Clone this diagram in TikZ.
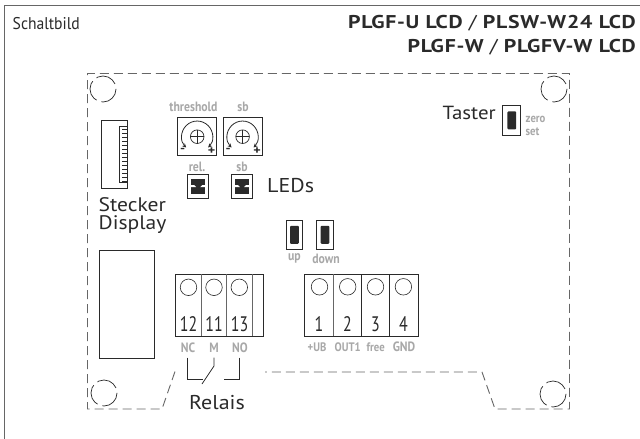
\documentclass[tikz,border=0pt]{standalone}
\usepackage{fontspec}
\setmainfont{PT Sans}
\newfontfamily\din[FakeStretch=0.92]{PT Sans}
\newfontfamily\dinw[FakeStretch=1.1]{PT Sans}
\newfontfamily\dinn[FakeStretch=0.76]{PT Sans}
\newfontfamily\dinb[FakeStretch=1.18,LetterSpace=4]{PT Sans Bold}
\newfontfamily\dinr[FakeStretch=1.18,LetterSpace=4]{PT Sans}
\newfontfamily\dinc[FakeStretch=0.87]{PT Sans Bold}
\usetikzlibrary{arrows.meta}
\definecolor{ink}{HTML}{2A2A2A}
\definecolor{lbl}{HTML}{A8A8A8}
\definecolor{frm}{HTML}{666666}
\tikzset{
  x=1pt,y=-1pt,
  boxline/.style={draw=ink,line width=0.9pt},
  board/.style={draw=frm,line width=0.9pt,dash pattern=on 9pt off 5pt},
  holec/.style={draw=ink,line width=0.7pt,dash pattern=on 22pt off 5pt},
  term/.style={draw=ink,line width=0.6pt,circle,minimum size=16.5pt,inner sep=0pt},
  big/.style={font=\dinw\fontsize{20}{20}\selectfont,text=ink,inner sep=0pt},
  num/.style={font=\dinn\fontsize{21}{21}\selectfont,text=ink,inner sep=0pt},
  small/.style={font=\dinc\fontsize{13.5}{14}\selectfont,text=lbl,inner sep=0pt},
  tiny/.style={font=\dinc\fontsize{12.3}{13}\selectfont,text=lbl,inner sep=0pt},
  head/.style={font=\dinb\fontsize{18.5}{20}\selectfont,text=ink,inner sep=0pt},
}
\newcommand{\pot}[2]{%
  \draw[boxline] (#1-19.5,#2-19) rectangle (#1+19.5,#2+19);
  \draw[draw=ink,line width=0.7pt] (#1,#2) circle (6.8);
  \draw[draw=ink,line width=0.6pt] (#1-6.8,#2) -- (#1+6.8,#2) (#1,#2-6.8) -- (#1,#2+6.8);
  \draw[draw=ink,line width=0.8pt,{Stealth[length=4pt,width=4pt]}-{Stealth[length=4pt,width=4pt]}] (#1-11,#2+10.8) arc[start angle=135,end angle=405,radius=15.5];
  \node[font=\dinb\fontsize{12}{12}\selectfont,text=ink,inner sep=0pt] at (#1-14.5,#2+14) {-};
  \node[font=\dinb\fontsize{12}{12}\selectfont,text=ink,inner sep=0pt] at (#1+14.5,#2+14) {+};
}
\newcommand{\ledbox}[2]{%
  \draw[boxline] (#1-10.5,#2-12) rectangle (#1+10.5,#2+12);
  \fill[ink] (#1-7.2,#2-7.5) rectangle (#1+7.2,#2+7.5);
  \fill[white] (#1-7.2,#2-1) -- (#1-4,#2-1) -- (#1-2,#2+1) -- (#1-7.2,#2+1) -- cycle
               (#1+7.2,#2-1) -- (#1+4,#2-1) -- (#1+2,#2+1) -- (#1+7.2,#2+1) -- cycle;
}
\newcommand{\keybox}[6]{%
  \draw[boxline] (#1,#2) rectangle (#3,#4);
  \fill[ink,rounded corners=1pt] (#5-4.4,#6-9) rectangle (#5+4.4,#6+9);
}
\begin{document}
\begin{tikzpicture}
\useasboundingbox (0,0) rectangle (640,439);
\fill[white] (0,0) rectangle (640,439);
% outer frame
\draw[frm,line width=1pt] (4.5,439) -- (4.5,5) -- (640,5);
% header
\node[font=\din\fontsize{17}{18}\selectfont,text=ink,inner sep=0pt,anchor=west] (title) at (12.5,23.5) {Schaltbild};
\node[head,anchor=east] (h1) at (636,23.5) {PLGF-U LCD {\dinr/} PLSW-W24 LCD};
\node[head,anchor=east] (h2) at (636,47.5) {PLGF-W {\dinr/} PLGFV-W LCD};
% board
\draw[board] (175,371.5) -- (162,409) -- (87.5,409) -- (87.5,73.5) -- (569.5,73.5) -- (569.5,409) -- (495,409) -- (482,372) -- (265,372);
% mounting holes
\draw[holec] (103,89) circle (13);
\draw[holec] (104,393) circle (13);
\draw[holec] (554,89) circle (13);
\draw[holec] (553,394) circle (13);
% display connector
\draw[boxline] (101.7,120.7) rectangle (127.7,188);
\draw[boxline,line width=0.7pt] (119.3,126.5) rectangle (127.7,182);
\foreach \yy in {129,133,...,181} \draw[ink,line width=0.5pt] (122,\yy) -- (127.7,\yy);
\node[big,anchor=west,font=\dinw\fontsize{19.6}{20}\selectfont] (stecker) at (98.5,205) {Stecker};
\node[big,anchor=west,font=\dinw\fontsize{19.6}{20}\selectfont] (display) at (98.5,225) {Display};
% pots
\pot{197.2}{136.7}
\pot{242.6}{136.7}
\node[small] (thr) at (193.5,106.5) {threshold};
\node[small] (sb1) at (243,106.5) {sb};
% LEDs
\ledbox{198.2}{186.2}
\ledbox{242}{186.2}
\node[small] (rel) at (197,167) {rel.};
\node[small] (sb2) at (242,167) {sb};
\node[big,anchor=west] (leds) at (267,186) {LEDs};
% Taster
\keybox{502.7}{105.7}{520}{135}{511.8}{120.4}
\node[big,anchor=east,font=\dinw\fontsize{19}{20}\selectfont] (taster) at (496,112.5) {Taster};
\node[tiny,anchor=west] (zero) at (525.5,119.5) {zero};
\node[tiny,anchor=west] (set) at (525.5,131.5) {set};
% up/down
\keybox{286}{220}{302.7}{249.3}{294.4}{234.8}
\keybox{316.7}{220}{333}{249.3}{325}{234.8}
\node[small] (up) at (294.5,258.5) {up};
\node[small] (down) at (326,258.5) {down};
% big rectangle
\draw[boxline] (99.3,250) rectangle (154.3,358);
% relay terminal
\draw[boxline] (175.7,274) rectangle (263,336.3);
\draw[frm,line width=0.9pt] (201.3,274) -- (201.3,336.3) (226.7,274) -- (226.7,336.3) (252,274) -- (252,336.3);
\node[term] (t12) at (188.5,287.3) {};
\node[term] (t11) at (214,287.3) {};
\node[term] (t13) at (239.3,287.3) {};
\node[num] at (188.5,324) {12};
\node[num] at (214,324) {11};
\node[num] at (239.5,324) {13};
\node[small] (nc) at (188,347.5) {NC};
\node[small] (m) at (214,347.5) {M};
\node[small] (no) at (240,347.5) {NO};
% relay symbol
\coordinate (a1) at (187.7,357.5);
\coordinate (a2) at (187.7,379.3);
\coordinate (a3) at (203,379.3);
\coordinate (b1) at (214,357.5);
\coordinate (b2) at (214,366);
\coordinate (b3) at (202,384);
\coordinate (c1) at (239.7,357.5);
\coordinate (c2) at (239.7,379.3);
\coordinate (c3) at (224.3,379.3);
\draw[ink,line width=0.8pt] (a1) -- (a2) -- (a3);
\draw[ink,line width=0.8pt] (b1) -- (b2) -- (b3);
\draw[ink,line width=0.8pt] (c1) -- (c2) -- (c3);
\node[big] (relais) at (217,402.5) {Relais};
% signal terminal
\draw[boxline] (304.3,274) rectangle (418.3,336.3);
\draw[frm,line width=0.9pt] (333.7,274) -- (333.7,336.3);
\draw[ink,line width=0.8pt] (361.7,274) -- (361.7,336.3) (389.7,274) -- (389.7,336.3);
\node[term] (t1) at (319.5,286.8) {};
\node[term] (t2) at (347.7,286.8) {};
\node[term] (t3) at (375.5,286.8) {};
\node[term] (t4) at (403.4,286.8) {};
\node[num] at (319,324) {1};
\node[num] at (347.5,324) {2};
\node[num] at (375.5,324) {3};
\node[num] at (403.5,324) {4};
\node[tiny] (ub) at (317,347) {+UB};
\node[tiny] (out) at (347.7,347) {OUT1};
\node[tiny] (free) at (375.7,347) {free};
\node[small] (gnd) at (404,347) {GND};
\end{tikzpicture}
\end{document}
